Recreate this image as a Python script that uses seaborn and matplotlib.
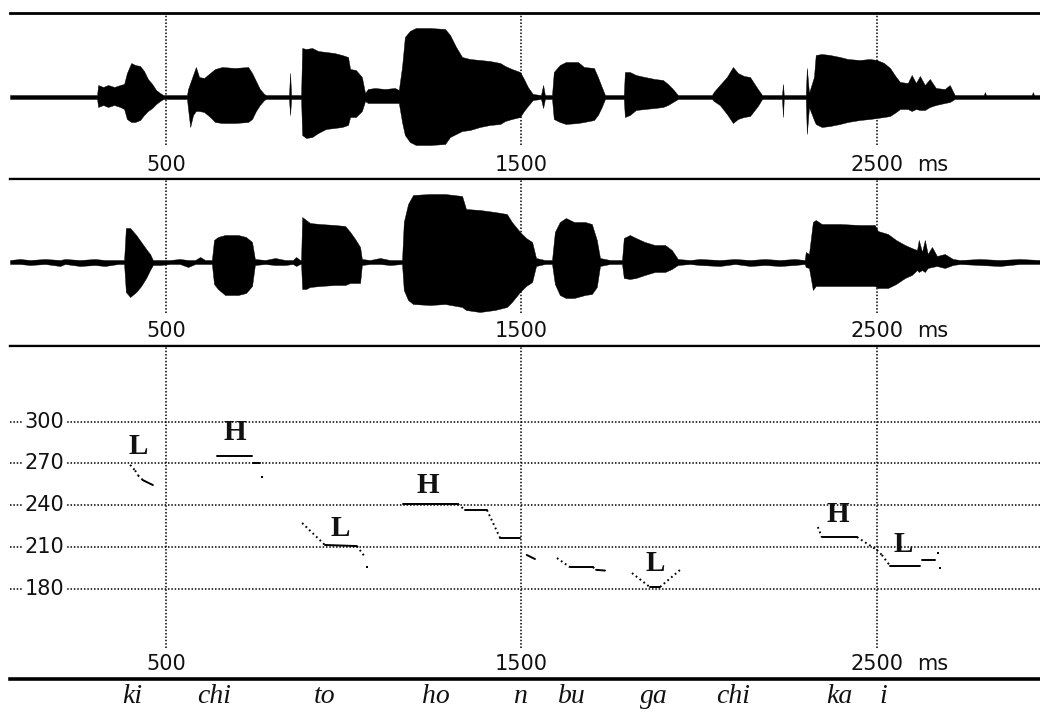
import numpy as np
import matplotlib
matplotlib.use("Agg")
import matplotlib.pyplot as plt
import matplotlib.transforms as mtransforms
import seaborn as sns

# ---------------- data ----------------
TICKS_MS = [500, 1500, 2500]
TICK_LABELS = ["500", "1500", "2500"]
UNIT = "ms"
F0_TICKS = [180, 210, 240, 270, 300]
XLIM = (61, 2959)

# waveform 1 envelope: time (ms), upper / lower amplitude
W1_T = [61, 306, 309, 323, 337, 354, 371, 382, 390, 402, 413, 427, 438, 449, 461, 472, 483, 492,
        559, 562, 568, 576, 584, 593, 607, 624, 638, 658, 694, 731, 742, 753, 764, 776, 781,
        846, 849, 852, 880, 883, 894, 911, 928, 950, 973, 995, 1012, 1018, 1034, 1051, 1060, 1068, 1088, 1116, 1144, 1155,
        1164, 1172, 1186, 1203, 1243, 1285, 1299, 1316, 1333, 1355, 1383, 1411, 1440, 1454, 1473, 1496, 1507, 1518, 1532,
        1555, 1561, 1566, 1586, 1591, 1608, 1625, 1659, 1676, 1704, 1715, 1726, 1735,
        1788, 1791, 1805, 1822, 1847, 1875, 1898, 1912, 1926, 1940,
        2036, 2041, 2058, 2078, 2095, 2109, 2126, 2143, 2154, 2165, 2177,
        2233, 2236, 2238, 2300, 2303, 2309, 2323, 2328, 2345, 2368, 2396, 2418, 2452, 2480, 2500, 2520, 2537, 2554, 2565,
        2587, 2598, 2610, 2621, 2635, 2649, 2666, 2691, 2705, 2719,
        2801, 2804, 2807, 2936, 2939, 2942, 2959]
W1_UP = [2, 2, 12, 10, 12, 10, 12, 13, 24, 34, 32, 31, 26, 18, 13, 7, 4, 2,
         2, 8, 14, 22, 30, 20, 19, 24, 28, 30, 29, 30, 24, 16, 8, 3, 2,
         2, 24, 2, 2, 49, 48, 49, 46, 45, 44, 42, 40, 28, 27, 20, 4, 8, 9, 8, 9, 7,
         30, 60, 66, 69, 69, 68, 62, 50, 40, 38, 37, 36, 34, 31, 28, 25, 18, 10, 3,
         2, 12, 2, 2, 25, 32, 35, 35, 30, 29, 20, 10, 2,
         2, 25, 25, 22, 20, 18, 17, 13, 8, 2,
         2, 5, 12, 20, 30, 24, 21, 20, 14, 8, 2,
         2, 13, 2, 2, 29, 4, 20, 42, 43, 42, 40, 38, 37, 38, 37, 34, 29, 20, 15,
         14, 22, 14, 21, 12, 18, 9, 8, 12, 2,
         2, 5, 2, 2, 5, 2, 2]
W1_LO = [2, 2, 10, 8, 10, 8, 10, 12, 22, 25, 25, 23, 18, 14, 11, 7, 4, 2,
         2, 12, 30, 18, 14, 14, 15, 20, 25, 26, 26, 25, 22, 14, 8, 3, 2,
         2, 18, 2, 2, 38, 41, 40, 36, 32, 31, 30, 28, 20, 20, 14, 4, 6, 6, 6, 6, 6,
         25, 38, 45, 48, 48, 47, 40, 37, 34, 33, 30, 28, 27, 24, 22, 20, 14, 9, 3,
         2, 11, 2, 2, 22, 25, 27, 26, 25, 23, 18, 10, 2,
         2, 20, 18, 13, 12, 11, 10, 8, 5, 2,
         2, 4, 8, 17, 26, 22, 20, 19, 14, 9, 2,
         2, 20, 2, 2, 37, 10, 23, 27, 30, 29, 27, 25, 23, 22, 21, 20, 19, 15, 12,
         12, 14, 12, 13, 13, 10, 8, 6, 5, 2,
         2, 2, 2, 2, 2, 2, 2]

# waveform 2 envelope
W2_T = [61, 89, 117, 160, 202, 216, 258, 300, 328, 365, 382, 387, 399, 416, 430, 444, 455, 463, 483, 511,
        539, 562, 582, 596, 610, 629, 635, 646, 666, 703, 725, 742, 750, 779, 807, 835, 857, 866, 877, 880,
        883, 894, 905, 933, 975, 1004, 1018, 1032, 1046, 1051, 1074, 1102, 1130, 1164, 1169, 1181, 1195, 1243,
        1285, 1333, 1344, 1383, 1425, 1459, 1473, 1496, 1513, 1530, 1541, 1566, 1586, 1594, 1608, 1625, 1648,
        1679, 1698, 1712, 1721, 1749, 1783, 1788, 1805, 1822, 1847, 1875, 1904, 1923, 1940, 1974, 2002, 2058,
        2101, 2143, 2185, 2227, 2269, 2297, 2300, 2309, 2320, 2328, 2345, 2396, 2452, 2494, 2503, 2531, 2554,
        2579, 2598, 2613, 2618, 2627, 2635, 2643, 2655, 2669, 2691, 2714, 2734, 2790, 2846, 2902, 2959]
W2_UP = [2, 3, 2, 3, 2, 3, 2, 3, 2, 2, 2, 34, 34, 27, 20, 13, 8, 2, 2, 2, 3, 2, 2, 5, 2, 2, 22, 25, 27, 27,
         25, 20, 3, 2, 4, 2, 2, 5, 2, 2, 45, 42, 39, 38, 37, 36, 30, 23, 15, 3, 2, 4, 2, 2, 40, 58, 67, 68,
         68, 66, 53, 52, 50, 48, 40, 30, 24, 20, 4, 2, 2, 30, 40, 44, 40, 40, 38, 22, 4, 2, 2, 24, 27, 24,
         20, 17, 17, 12, 3, 2, 3, 2, 3, 2, 3, 2, 3, 2, 10, 8, 40, 42, 38, 38, 37, 37, 31, 28, 22, 17, 14, 12,
         22, 10, 22, 8, 15, 6, 8, 3, 2, 3, 2, 3, 2]
W2_LO = [2, 2, 3, 2, 4, 2, 4, 3, 4, 2, 2, 30, 35, 30, 24, 16, 8, 3, 3, 2, 2, 5, 2, 2, 2, 2, 22, 27, 33, 33,
         31, 24, 3, 2, 3, 3, 2, 4, 2, 2, 27, 27, 25, 24, 23, 23, 21, 21, 21, 3, 2, 2, 3, 2, 28, 38, 42, 43,
         42, 45, 48, 50, 48, 45, 40, 30, 24, 20, 4, 2, 2, 22, 33, 36, 36, 33, 32, 25, 4, 2, 2, 16, 17, 16,
         13, 10, 10, 7, 3, 2, 3, 4, 2, 4, 3, 4, 3, 2, 5, 6, 28, 24, 24, 24, 24, 24, 26, 26, 22, 16, 13, 8,
         10, 8, 10, 6, 5, 4, 6, 3, 2, 3, 4, 2, 2]

# pitch track pieces (ms, Hz)
PITCH_T = [[399, 413, 421, 435, 463], [643, 742], [745, 764], [770],
           [883, 947, 1037, 1060], [1065],
           [1167, 1321, 1341, 1403, 1440, 1496], [1515, 1538],
           [1600, 1636, 1701, 1710, 1735], [1811, 1861, 1890, 1946],
           [2334, 2345, 2444, 2500, 2514, 2531, 2537, 2621], [2627, 2663], [2672], [2677]]
PITCH_F = [[269, 265, 261.5, 258, 254.5], [275.4, 275.4], [270.4, 270.4], [260.3],
           [227.2, 211.4, 210.6, 202.7], [195.5],
           [240.9, 240.9, 236.5, 236.5, 216.4, 216.4], [204.2, 201.3],
           [202, 195.5, 195.5, 193.5, 193], [191.2, 181.2, 181.2, 193.4],
           [224.3, 217.1, 217.1, 207.8, 204.2, 198.5, 196.3, 196.3], [200.6, 200.6], [205.6], [194.8]]

TONES = ["L", "H", "L", "H", "L", "H", "L"]
TONE_T = [421, 694, 989, 1237, 1875, 2390, 2573]
TONE_F = [282, 292, 223.6, 254.5, 198.4, 233, 211.4]

SYLL = ["ki", "chi", "to", "ho", "n", "bu", "ga", "chi", "ka", "i"]
SYLL_T = [404, 635, 947, 1260, 1496, 1642, 1873, 2095, 2393, 2517]

# ---------------- style ----------------
sns.set_theme(style="white")
plt.rcParams["font.family"] = ["DejaVu Sans"]

DOT = (0, (1, 1.2))
fig = plt.figure(figsize=(10.4, 7.14), dpi=100)
L, W = 10 / 1040, 1030 / 1040
ax1 = fig.add_axes([L, 1 - 179 / 714, W, 166 / 714])
ax2 = fig.add_axes([L, 1 - 346 / 714, W, 167 / 714])
ax3 = fig.add_axes([L, 1 - 679 / 714, W, 333 / 714])

LABEL_FS = 15


def style_axis(ax, top_lw, bot_lw):
    ax.set_xlim(XLIM)
    ax.set_xticks([])
    ax.set_yticks([])
    ax.set_facecolor("white")
    ax.grid(False)
    for s in ("left", "right"):
        ax.spines[s].set_visible(False)
    ax.spines["top"].set_linewidth(top_lw)
    ax.spines["bottom"].set_linewidth(bot_lw)
    for s in ("top", "bottom"):
        ax.spines[s].set_color("black")


def time_labels(ax, yfrac, grid_ymin):
    tr = mtransforms.blended_transform_factory(ax.transData, ax.transAxes)
    for tk, lab in zip(TICKS_MS, TICK_LABELS):
        ax.axvline(tk, ymin=grid_ymin, ymax=1, color="black", lw=1.1, ls=DOT, zorder=1)
        ax.text(tk, yfrac, lab, transform=tr, ha="center", va="center",
                fontsize=LABEL_FS, color="#111111")
    ax.text(TICKS_MS[-1] + 112, yfrac, UNIT, transform=tr, ha="left", va="center",
            fontsize=LABEL_FS, color="#111111")


def wave(ax, t, up, lo, ylim):
    t = np.asarray(t, float)
    ax.fill_between(t, np.asarray(up, float), -np.asarray(lo, float),
                    color="black", edgecolor="black", lw=0.3, zorder=2)
    ax.set_ylim(ylim)


wave(ax1, W1_T, W1_UP, W1_LO, (-82, 84))
style_axis(ax1, 2.0, 1.6)
time_labels(ax1, 0.084, 0.205)

wave(ax2, W2_T, W2_UP, W2_LO, (-84, 83))
style_axis(ax2, 1.6, 1.6)
time_labels(ax2, 0.09, 0.198)

# pitch panel
ax3.set_ylim(115, 354.5)
style_axis(ax3, 1.6, 2.6)
time_labels(ax3, 0.045, 0.093)
for f in F0_TICKS:
    ax3.axhline(f, color="black", lw=1.1, ls=DOT, zorder=1)
    ax3.text(158, f, str(f), ha="center", va="center", fontsize=LABEL_FS, color="#111111",
             bbox=dict(facecolor="white", edgecolor="none", pad=1.0), zorder=3)

fig.canvas.draw()
for ts, fs in zip(PITCH_T, PITCH_F):
    if len(ts) == 1:
        sns.scatterplot(x=ts, y=fs, ax=ax3, color="black", s=3, marker="s",
                        linewidth=0, zorder=4)
        continue
    pts = ax3.transData.transform(np.column_stack([ts, fs]))
    for i in range(len(ts) - 1):
        dx = abs(pts[i + 1, 0] - pts[i, 0])
        dy = abs(pts[i + 1, 1] - pts[i, 1])
        steep = dy > 0.5 * dx
        sns.lineplot(x=ts[i:i + 2], y=fs[i:i + 2], ax=ax3, color="black",
                     lw=1.4, linestyle=(0, (0.9, 1.6)) if steep else "-",
                     zorder=4, legend=False)
ax3.set_xlim(XLIM)
ax3.set_ylim(115, 354.5)
ax3.set_xlabel("")
ax3.set_ylabel("")

for lab, t, f in zip(TONES, TONE_T, TONE_F):
    ax3.text(t, f, lab, ha="center", va="center", fontsize=21, fontweight="bold",
             family=["Liberation Serif", "DejaVu Serif"], color="#111111", zorder=5)

trs = mtransforms.blended_transform_factory(ax3.transData, fig.transFigure)
for s, t in zip(SYLL, SYLL_T):
    fig.text(t, 0.025, s, transform=trs, ha="center", va="center", fontsize=20,
             style="italic", family=["Liberation Serif", "DejaVu Serif"], color="#111111")

fig.savefig("out.png", dpi=100, facecolor="white")
